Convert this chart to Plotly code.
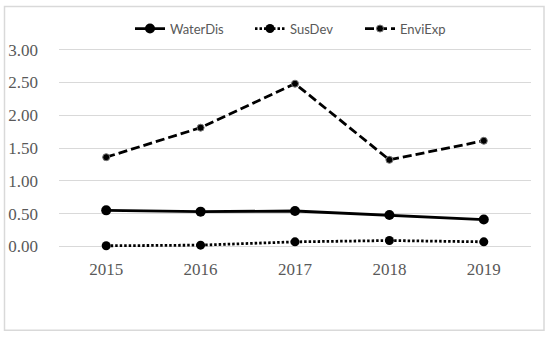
import plotly.graph_objects as go

years = ["2015", "2016", "2017", "2018", "2019"]
water_dis = [0.55, 0.53, 0.54, 0.48, 0.41]
sus_dev = [0.01, 0.02, 0.07, 0.09, 0.07]
envi_exp = [1.36, 1.81, 2.48, 1.32, 1.61]
y_ticks = [0, 0.5, 1.0, 1.5, 2.0, 2.5, 3.0]
y_tick_labels = ["0.00", "0.50", "1.00", "1.50", "2.00", "2.50", "3.00"]

L, R, T, B = 59, 19, 43.4, 83.7
W, H = 550, 337
pw, ph = W - L - R, H - T - B


def px_x(p):
    return (p - L) / pw


def px_y(p):
    return (H - B - p) / ph


fig = go.Figure()
fig.add_trace(go.Scatter(x=years, y=water_dis, name="WaterDis", mode="lines+markers",
                         line=dict(color="black", width=2.8, dash="solid"),
                         marker=dict(size=10, color="black"), cliponaxis=False,
                         legend="legend"))
fig.add_trace(go.Scatter(x=years, y=sus_dev, name="SusDev", mode="lines+markers",
                         line=dict(color="black", width=2.8, dash="2.5px,2px"),
                         marker=dict(size=9, color="black"), cliponaxis=False,
                         legend="legend2"))
fig.add_trace(go.Scatter(x=years, y=envi_exp, name="EnviExp", mode="lines+markers",
                         line=dict(color="black", width=2.8, dash="9px,4px"),
                         marker=dict(size=7, color="black", line=dict(color="#777", width=1)),
                         cliponaxis=False, legend="legend3"))

legend_font = dict(family="Lato, Noto Sans, sans-serif", size=13, color="#595959")


def make_legend(px_left):
    return dict(orientation="h", x=px_x(px_left), y=px_y(29), xanchor="left", yanchor="middle",
                font=legend_font, bgcolor="rgba(0,0,0,0)", borderwidth=0)


fig.update_layout(
    width=W, height=H,
    margin=dict(l=L, r=R, t=T, b=B, autoexpand=False),
    paper_bgcolor="white", plot_bgcolor="white",
    showlegend=True,
    legend=make_legend(130),
    legend2=make_legend(250),
    legend3=make_legend(360),
    xaxis=dict(type="category", range=[-0.5, 4.5], showgrid=False, showline=False,
               ticks="", ticklen=0, zeroline=False, ticklabelstandoff=4,
               tickfont=dict(family="Liberation Serif, Times New Roman, serif", size=17, color="#595959")),
    yaxis=dict(range=[-0.1, 3.1], tickvals=y_ticks, ticktext=y_tick_labels,
               showgrid=True, gridcolor="#d9d9d9", gridwidth=1, zeroline=False,
               showline=False, ticks="", ticklen=0, ticklabelstandoff=20,
               tickfont=dict(family="Liberation Serif, Times New Roman, serif", size=17, color="#595959")),
    shapes=[dict(type="rect", xref="paper", yref="paper",
                 x0=px_x(4.5), x1=px_x(544), y0=px_y(330.5), y1=px_y(7),
                 line=dict(color="#d9d9d9", width=1.5), fillcolor="rgba(0,0,0,0)", layer="below")],
)

fig.write_html("out.html", config={"displayModeBar": False},
               post_script="document.body.style.margin='0';document.body.style.padding='0';")
